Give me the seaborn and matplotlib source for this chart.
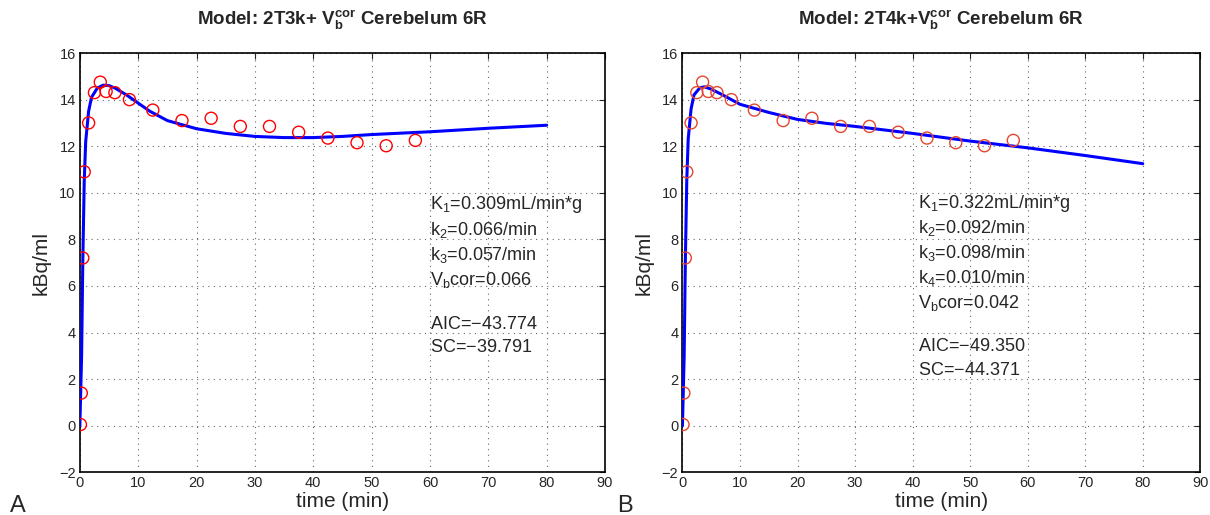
import matplotlib
matplotlib.use("Agg")
import matplotlib.pyplot as plt
import seaborn as sns
import pandas as pd

# measured points (same for both panels)
t_meas = [0.1, 0.25, 0.5, 0.75, 1.5, 2.5, 3.5, 4.5, 6.0, 8.5, 12.5, 17.5,
          22.5, 27.5, 32.5, 37.5, 42.5, 47.5, 52.5, 57.5]
c_meas = [0.05, 1.4, 7.2, 10.9, 13.0, 14.3, 14.75, 14.35, 14.3, 14.0, 13.55, 13.1,
          13.2, 12.85, 12.85, 12.6, 12.35, 12.15, 12.02, 12.25]

# fitted curves
t_fit_a = [0, 0.3, 0.5, 0.75, 1.0, 1.5, 2.0, 3.0, 4.0, 5.0, 6.0, 8.0, 10.0, 12.0,
           15.0, 20.0, 25.0, 30.0, 35.0, 40.0, 45.0, 50.0, 55.0, 60.0, 70.0, 80.0]
c_fit_a = [0, 3.0, 7.0, 10.5, 12.2, 13.5, 14.1, 14.5, 14.62, 14.6, 14.5, 14.2, 13.85,
           13.5, 13.1, 12.75, 12.55, 12.42, 12.37, 12.37, 12.42, 12.5, 12.56, 12.62, 12.77, 12.9]

t_fit_b = [0, 0.3, 0.5, 0.75, 1.0, 1.5, 2.0, 3.0, 3.8, 5.0, 7.0, 10.0, 15.0, 20.0,
           25.0, 30.0, 40.0, 50.0, 60.0, 70.0, 80.0]
c_fit_b = [0, 3.0, 7.0, 10.5, 12.3, 13.6, 14.2, 14.5, 14.55, 14.45, 14.2, 13.8, 13.45,
           13.15, 12.98, 12.85, 12.55, 12.22, 11.93, 11.6, 11.25]

titles = [r"Model: 2T3k+ $\mathbf{V_b^{cor}}$ Cerebelum 6R",
          r"Model: 2T4k+$\mathbf{V_b^{cor}}$ Cerebelum 6R"]
params_a = [r"K$_1$=0.309mL/min*g", r"k$_2$=0.066/min", r"k$_3$=0.057/min",
            r"V$_\mathregular{b}$cor=0.066"]
stats_a = [r"AIC=$-$43.774", r"SC=$-$39.791"]
params_b = [r"K$_1$=0.322mL/min*g", r"k$_2$=0.092/min", r"k$_3$=0.098/min",
            r"k$_4$=0.010/min", r"V$_\mathregular{b}$cor=0.042"]
stats_b = [r"AIC=$-$49.350", r"SC=$-$44.371"]

sns.set_style("white")
plt.rcParams["font.family"] = ["Liberation Sans", "DejaVu Sans"]
plt.rcParams["mathtext.fontset"] = "custom"
plt.rcParams["mathtext.rm"] = "Liberation Sans"
plt.rcParams["mathtext.it"] = "Liberation Sans"
plt.rcParams["mathtext.bf"] = "Liberation Sans:bold"

fig = plt.figure(figsize=(12.1, 5.15), dpi=100)
ax_a = fig.add_axes([0.066, 0.083, 0.434, 0.814])
ax_b = fig.add_axes([0.564, 0.083, 0.428, 0.814])

meas = pd.DataFrame({"t": t_meas, "c": c_meas})
panels = [
    (ax_a, t_fit_a, c_fit_a, "red", titles[0], params_a, stats_a, 60.0, 9.48, 4.33),
    (ax_b, t_fit_b, c_fit_b, "#e5462e", titles[1], params_b, stats_b, 41.0, 9.56, 3.38),
]

for ax, tf, cf, mcol, title, params, stats, tx, ty, sy in panels:
    fit = pd.DataFrame({"t": tf, "c": cf})
    sns.lineplot(data=fit, x="t", y="c", ax=ax, color="blue", lw=2.2, zorder=3)
    sns.scatterplot(data=meas, x="t", y="c", ax=ax, marker="o", s=75,
                    facecolors="none", edgecolor=mcol, linewidth=1.0, zorder=4)
    ax.set_xlim(0, 90)
    ax.set_ylim(-2, 16)
    ax.set_xticks(range(0, 91, 10))
    ax.set_yticks(range(-2, 17, 2))
    ax.yaxis.set_ticklabels([("\u22122" if v == -2 else str(v)) for v in range(-2, 17, 2)])
    ax.grid(True, ls=(0, (1, 4)), color="#666666", lw=0.8)
    ax.tick_params(direction="in", top=True, right=True, labelsize=10.5, length=4,
                   pad=3)
    for sp in ax.spines.values():
        sp.set_color("black")
        sp.set_linewidth(1.2)
    ax.set_xlabel("time (min)", fontsize=15, labelpad=1)
    ax.set_ylabel("kBq/ml", fontsize=15, labelpad=6)
    ax.set_title(title, fontsize=13.5, fontweight="bold", pad=20)
    for i, s in enumerate(params):
        ax.text(tx, ty - i * 1.07, s, fontsize=13, va="center", ha="left")
    for i, s in enumerate(stats):
        ax.text(tx, sy - i * 0.99, s, fontsize=13, va="center", ha="left")

fig.text(0.008, 0.005, "A", fontsize=17)
fig.text(0.51, 0.005, "B", fontsize=17)

fig.savefig("out.png", dpi=100)
